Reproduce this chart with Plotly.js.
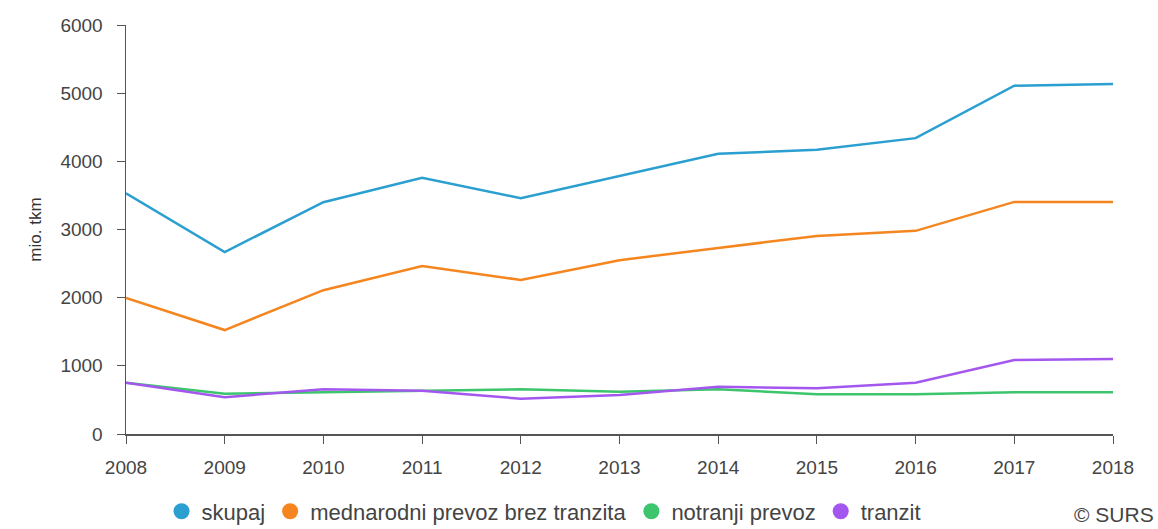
<!DOCTYPE html>
<html>
<head>
<meta charset="utf-8">
<script src="https://cdn.plot.ly/plotly-3.0.1.min.js"></script>
<style>html,body{margin:0;padding:0;background:#fff;}#chart{width:1158px;height:529px;}</style>
</head>
<body>
<div id="chart"></div>
<script>
const years = [2008, 2009, 2010, 2011, 2012, 2013, 2014, 2015, 2016, 2017, 2018];
const skupaj = [3530, 2670, 3400, 3760, 3460, 3780, 4110, 4170, 4340, 5110, 5135];
const mednarodni = [1995, 1525, 2110, 2465, 2260, 2550, 2730, 2905, 2980, 3405, 3405];
const notranji = [752, 590, 612, 635, 656, 621, 656, 582, 582, 612, 612];
const tranzit = [752, 540, 656, 635, 518, 572, 694, 670, 752, 1086, 1100];
const names = ['skupaj', 'mednarodni prevoz brez tranzita', 'notranji prevoz', 'tranzit'];
const colors = ['#2a9fd0', '#f5861f', '#3cc56c', '#a457ef'];
const series = [skupaj, mednarodni, notranji, tranzit];

const traces = [];
series.forEach((s, i) => {
  traces.push({x: years, y: s, type: 'scatter', mode: 'lines', name: names[i],
    line: {color: colors[i], width: 2.5}, showlegend: false, hoverinfo: 'x+y'});
});
series.forEach((s, i) => {
  traces.push({x: [null], y: [null], type: 'scatter', mode: 'markers', name: names[i],
    marker: {color: colors[i], size: 18, symbol: 'circle'}, showlegend: true});
});

const layout = {
  width: 1158, height: 529,
  margin: {l: 126, r: 45, t: 25, b: 95, autoexpand: false},
  paper_bgcolor: '#fff', plot_bgcolor: '#fff',
  font: {family: 'Liberation Sans, Arial, sans-serif', size: 19, color: '#444'},
  xaxis: {range: [2008, 2018], tickvals: years, ticktext: years.map(String),
    showgrid: false, zeroline: false, showline: true, linecolor: '#555', linewidth: 1.5,
    ticks: 'outside', ticklen: 8, tickcolor: '#555', ticklabelstandoff: 8,
    tickfont: {size: 19, color: '#444'}},
  yaxis: {range: [0, 6000], tickvals: [0, 1000, 2000, 3000, 4000, 5000, 6000],
    showgrid: false, zeroline: false, showline: true, linecolor: '#555', linewidth: 1.5,
    ticks: 'outside', ticklen: 8, tickcolor: '#555', ticklabelstandoff: 10,
    tickfont: {size: 19, color: '#444'},
    title: {text: 'mio. tkm', font: {size: 17, color: '#333'}, standoff: 14}},
  legend: {orientation: 'h', x: 0.036, xanchor: 'left', y: -0.138, yanchor: 'top',
    font: {size: 22, color: '#444'}, itemwidth: 30, tracegroupgap: 0},
  annotations: [{text: '© SURS', xref: 'paper', yref: 'paper', x: 1.044, y: -0.165,
    xanchor: 'right', yanchor: 'top', showarrow: false, font: {size: 21, color: '#444'}}]
};
Plotly.newPlot('chart', traces, layout, {displayModeBar: false, staticPlot: true});
</script>
</body>
</html>
